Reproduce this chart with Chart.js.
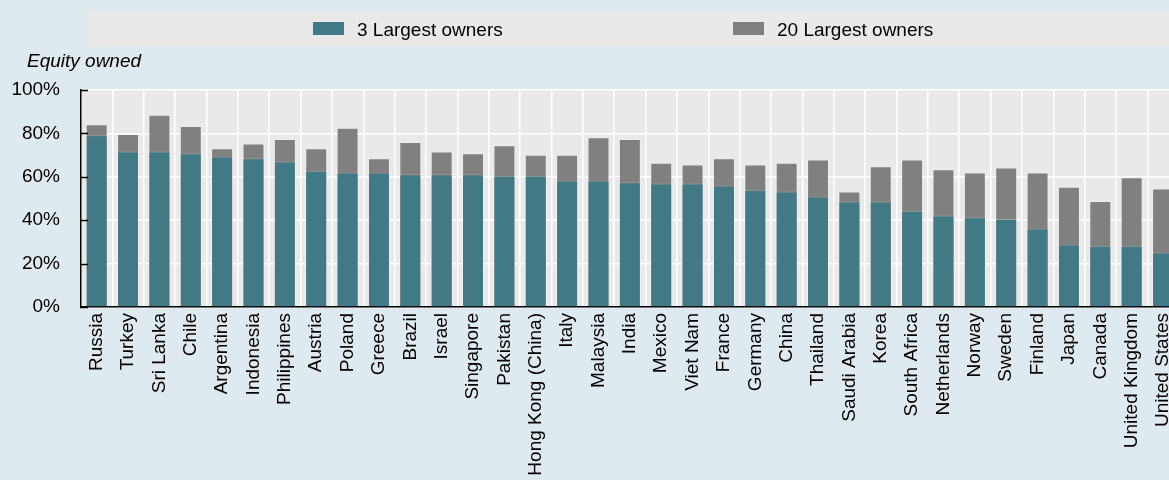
<!DOCTYPE html>
<html>
<head>
<meta charset="utf-8">
<script src="https://cdn.jsdelivr.net/npm/chart.js@4.4.1/dist/chart.umd.min.js"></script>
<style>
  html, body { margin: 0; padding: 0; background: #deeaef; overflow: hidden; width: 1169px; height: 480px; }
  canvas { display: block; }
</style>
</head>
<body>
<canvas id="c" width="1192" height="480" style="width:1192px;height:480px"></canvas>
<script>
const categories = ["Russia","Turkey","Sri Lanka","Chile","Argentina","Indonesia","Philippines","Austria","Poland","Greece","Brazil","Israel","Singapore","Pakistan","Hong Kong (China)","Italy","Malaysia","India","Mexico","Viet Nam","France","Germany","China","Thailand","Saudi Arabia","Korea","South Africa","Netherlands","Norway","Sweden","Finland","Japan","Canada","United Kingdom","United States"];
const largest3 = [79.1,71.7,71.7,70.8,69.4,68.6,67.1,62.8,62.0,62.0,61.2,61.2,61.2,60.5,60.5,58.3,58.3,57.5,56.9,56.9,56.0,54.0,53.2,50.9,48.6,48.6,44.3,42.2,41.4,40.6,36.2,28.8,28.2,28.2,25.1];
const largest20 = [84.2,79.7,88.6,83.4,73.1,75.4,77.4,73.1,82.6,68.6,76.0,71.7,70.8,74.5,70.2,70.2,78.2,77.4,66.5,65.7,68.6,65.7,66.5,68.0,53.2,64.9,68.0,63.5,62.0,64.3,62.0,55.4,48.8,59.8,54.6];
const seriesNames = ["3 Largest owners","20 Largest owners"];
const yTickValues = [0,20,40,60,80,100];
const yAxisTitle = "Equity owned";

const FONT = "'Liberation Sans', Arial, sans-serif";
const TEAL = "#417a84";
const GREY = "#808080";

const bgPlugin = {
  id: 'bg',
  beforeDraw(chart) {
    const ctx = chart.ctx, a = chart.chartArea;
    ctx.save();
    ctx.fillStyle = '#e9e9e9';
    ctx.fillRect(a.left, a.top, a.right - a.left, a.bottom - a.top);
    // legend band
    ctx.fillRect(88, 11, chart.width - 88, 36);
    ctx.restore();
  },
  afterDraw(chart) {
    const ctx = chart.ctx, a = chart.chartArea, y = chart.scales.y;
    ctx.save();
    // inward ticks on y axis
    ctx.strokeStyle = '#000';
    ctx.lineWidth = 1.5;
    yTickValues.forEach(v => {
      const py = Math.round(y.getPixelForValue(v)) + 0.5;
      ctx.beginPath();
      ctx.moveTo(a.left - 1, py);
      ctx.lineTo(a.left + 7, py);
      ctx.stroke();
    });
    // axis title
    ctx.fillStyle = '#000';
    ctx.font = 'italic 19px ' + FONT;
    ctx.textBaseline = 'alphabetic';
    ctx.textAlign = 'left';
    ctx.fillText(yAxisTitle, 27, 67);
    // legend
    const ds = chart.data.datasets;
    const legendX = [313, 733];
    ctx.font = '19px ' + FONT;
    ds.forEach((d, i) => {
      ctx.fillStyle = d.backgroundColor;
      ctx.fillRect(legendX[i], 22, 31, 13);
      ctx.fillStyle = '#000';
      ctx.fillText(d.label, legendX[i] + 44, 36);
    });
    ctx.restore();
  }
};

new Chart(document.getElementById('c'), {
  type: 'bar',
  data: {
    labels: categories,
    datasets: [
      { label: seriesNames[0], data: largest3, backgroundColor: TEAL, borderColor: 'rgba(255,255,255,0.25)', borderWidth: 1, grouped: false, barPercentage: 0.7, categoryPercentage: 1.0 },
      { label: seriesNames[1], data: largest20, backgroundColor: GREY, borderColor: 'rgba(255,255,255,0.25)', borderWidth: 1, grouped: false, barPercentage: 0.7, categoryPercentage: 1.0 }
    ]
  },
  options: {
    responsive: false,
    animation: false,
    devicePixelRatio: 1,
    layout: { padding: { top: 90, right: 12, left: 0, bottom: 0 } },
    plugins: { legend: { display: false }, tooltip: { enabled: false }, title: { display: false } },
    scales: {
      x: {
        grid: { color: '#ffffff', lineWidth: 1.5, drawTicks: false, offset: true },
        border: { color: '#000', width: 1.5 },
        ticks: { color: '#000', font: { family: FONT, size: 19 }, minRotation: 90, maxRotation: 90, autoSkip: false, padding: 6 },
        afterFit(scale) { scale.height = 173; }
      },
      y: {
        min: 0, max: 100,
        afterBuildTicks(scale) { scale.ticks = yTickValues.map(v => ({ value: v })); },
        grid: { color: '#ffffff', lineWidth: 1.5, drawTicks: false },
        border: { color: '#000', width: 1.5 },
        ticks: { color: '#000', font: { family: FONT, size: 19 }, padding: 21, callback: v => v + '%' },
        afterFit(scale) { scale.width = 81; }
      }
    }
  },
  plugins: [bgPlugin]
});
</script>
</body>
</html>
